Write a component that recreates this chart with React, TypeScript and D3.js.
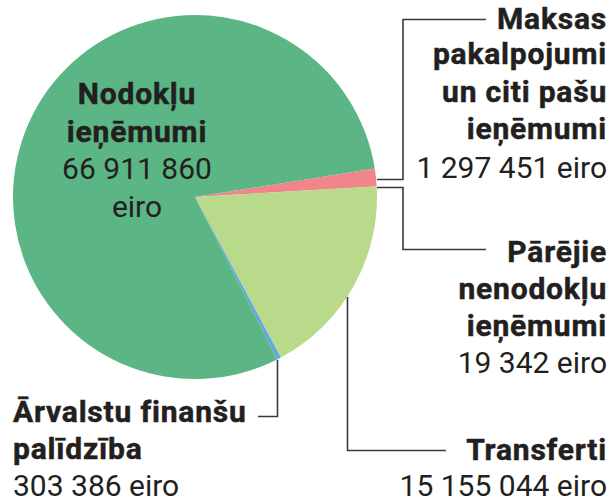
import React from "react";
import * as d3 from "d3";

const categories = [
  "Maksas pakalpojumi un citi pašu ieņēmumi",
  "Pārējie nenodokļu ieņēmumi",
  "Transferti",
  "Ārvalstu finanšu palīdzība",
  "Nodokļu ieņēmumi",
];
const values = [1297451, 19342, 15155044, 303386, 66911860];
const colors = ["#f0868b", "#7a9a6a", "#b9d98b", "#5ea9dd", "#5cb584"];
const valueLabels = ["1 297 451 eiro", "19 342 eiro", "15 155 044 eiro", "303 386 eiro", "66 911 860 eiro"];

const W = 611;
const H = 502;
const cx = 195;
const cy = 197;
const R = 182;
const startDeg = 81;

const INK = "#231f20";
const FONT = "Roboto, 'Noto Sans', sans-serif";
const FS = 30;

export default function App() {
  const pie = d3
    .pie<number>()
    .sort(null)
    .value((d) => d)
    .startAngle((startDeg * Math.PI) / 180)
    .endAngle((startDeg * Math.PI) / 180 + 2 * Math.PI);
  const arcs = pie(values);
  const arc = d3.arc<d3.PieArcDatum<number>>().innerRadius(0).outerRadius(R);

  const T = (x: number, y: number, s: string, anchor: string, b = false) => (
    <text
      x={x}
      y={y}
      textAnchor={anchor as any}
      fontFamily={FONT}
      fontSize={FS}
      fill={INK}
      fontWeight={b ? 700 : 400}
      letterSpacing={b ? 0.8 : 0}
      stroke={b ? INK : "none"}
      strokeWidth={b ? 0.5 : 0}
    >
      {s}
    </text>
  );

  const line = "#3a3a3a";
  return (
    <svg width={W} height={H} style={{ position: "absolute", left: 0, top: 0 }}>
      <rect width={W} height={H} fill="#ffffff" />
      <g transform={`translate(${cx},${cy})`}>
        {arcs.map((a, i) => (
          <path key={i} d={arc(a) || ""} fill={colors[i]} />
        ))}
      </g>
      {/* leader lines */}
      <g fill="none" stroke={line} strokeWidth={1.6}>
        <polyline points={`377,179.5 403,179.5 403,19.5 486,19.5`} />
        <polyline points={`377,187.5 403,187.5 403,249.5 486,249.5`} />
        <polyline points={`347.5,297 347.5,450.5 446,450.5`} />
        <polyline points={`277.5,360 277.5,416.5 258,416.5`} />
      </g>
      {/* Nodokļu */}
      {T(137, 104, "Nodokļu", "middle", true)}
      {T(137, 141.5, "ieņēmumi", "middle", true)}
      {T(137, 179, "66 911 860", "middle")}
      {T(137, 216.5, "eiro", "middle")}
      {/* Maksas */}
      {T(607, 29, "Maksas", "end", true)}
      {T(607, 64, "pakalpojumi", "end", true)}
      {T(607, 101.5, "un citi pašu", "end", true)}
      {T(607, 139, "ieņēmumi", "end", true)}
      {T(607, 177.5, valueLabels[0], "end")}
      {/* Pārējie */}
      {T(607, 261.5, "Pārējie", "end", true)}
      {T(607, 298.5, "nenodokļu", "end", true)}
      {T(607, 335.5, "ieņēmumi", "end", true)}
      {T(607, 372.5, valueLabels[1], "end")}
      {/* Transferti */}
      {T(607, 459.5, "Transferti", "end", true)}
      {T(607, 495.5, valueLabels[2], "end")}
      {/* Ārvalstu */}
      {T(13, 422, "Ārvalstu finanšu", "start", true)}
      {T(13, 459, "palīdzība", "start", true)}
      {T(13, 495.5, valueLabels[3], "start")}
    </svg>
  );
}
